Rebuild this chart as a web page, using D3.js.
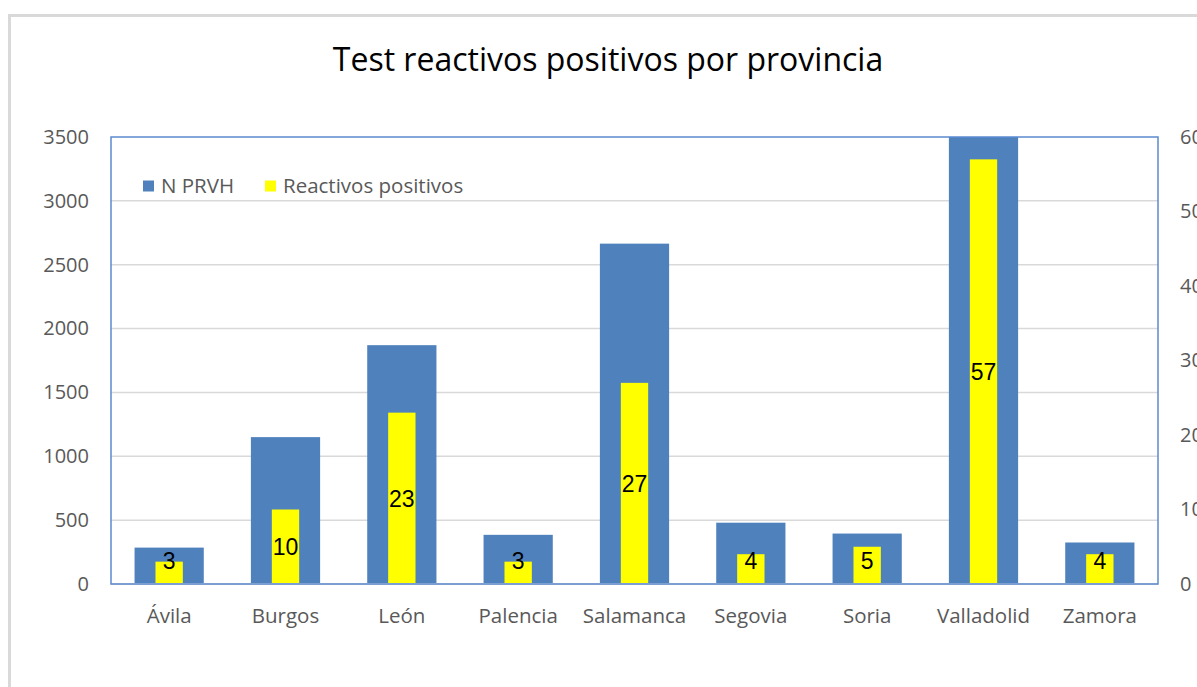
<!DOCTYPE html>
<html>
<head>
<meta charset="utf-8">
<script src="https://cdn.jsdelivr.net/npm/d3@7"></script>
<style>
  body { margin: 0; background: #fff; }
  svg { display: block; }
</style>
</head>
<body>
<div id="chart"></div>
<script>
// data
var provincias = ["Ávila", "Burgos", "León", "Palencia", "Salamanca", "Segovia", "Soria", "Valladolid", "Zamora"];
var nPrvh = [285, 1150, 1870, 385, 2665, 480, 395, 3600, 325];
var reactivos = [3, 10, 23, 3, 27, 4, 5, 57, 4];
var leftTicks = [0, 500, 1000, 1500, 2000, 2500, 3000, 3500];
var rightTicks = [0, 10, 20, 30, 40, 50, 60];

var w = 1197,
  h = 687;
var plot = { left: 111, right: 1158, top: 137, bottom: 584 };

var svg = d3.select("#chart").append("svg")
  .attr("width", w)
  .attr("height", h);

// outer chart frame
svg.append("rect")
  .attr("x", 9.5).attr("y", 15.5)
  .attr("width", 1400).attr("height", 900)
  .attr("fill", "#fff")
  .attr("stroke", "#d9d9d9")
  .attr("stroke-width", 3);

var x = d3.scaleBand()
  .domain(provincias)
  .range([plot.left, plot.right]);

var yLeft = d3.scaleLinear().domain([0, 3500]).range([plot.bottom, plot.top]);
var yRight = d3.scaleLinear().domain([0, 60]).range([plot.bottom, plot.top]);

svg.append("defs").append("clipPath").attr("id", "plotClip")
  .append("rect")
  .attr("x", plot.left).attr("y", plot.top)
  .attr("width", plot.right - plot.left)
  .attr("height", plot.bottom - plot.top);

// gridlines
svg.append("g")
  .selectAll("line")
  .data(leftTicks.slice(1, -1))
  .enter()
  .append("line")
  .attr("x1", plot.left).attr("x2", plot.right)
  .attr("y1", function(d) { return yLeft(d); })
  .attr("y2", function(d) { return yLeft(d); })
  .attr("stroke", "#d9d9d9")
  .attr("stroke-width", 1.5);

// blue bars
var blueW = x.bandwidth() * 0.595;
svg.append("g")
  .attr("clip-path", "url(#plotClip)")
  .selectAll("rect")
  .data(provincias)
  .enter()
  .append("rect")
  .attr("x", function(d) { return x(d) + x.bandwidth() / 2 - blueW / 2; })
  .attr("width", blueW)
  .attr("y", function(d, i) { return yLeft(nPrvh[i]); })
  .attr("height", function(d, i) { return plot.bottom - yLeft(nPrvh[i]); })
  .attr("fill", "#4f81bd");

// yellow bars
var yelW = x.bandwidth() * 0.235;
svg.append("g")
  .selectAll("rect")
  .data(provincias)
  .enter()
  .append("rect")
  .attr("x", function(d) { return x(d) + x.bandwidth() / 2 - yelW / 2; })
  .attr("width", yelW)
  .attr("y", function(d, i) { return yRight(reactivos[i]); })
  .attr("height", function(d, i) { return plot.bottom - yRight(reactivos[i]); })
  .attr("fill", "#ffff00");

// data labels
svg.append("g")
  .selectAll("text")
  .data(provincias)
  .enter()
  .append("text")
  .attr("x", function(d) { return x(d) + x.bandwidth() / 2; })
  .attr("y", function(d, i) {
    var mid = (yRight(reactivos[i]) + plot.bottom) / 2;
    return Math.min(mid, plot.bottom - 23);
  })
  .attr("dy", "0.36em")
  .attr("text-anchor", "middle")
  .style("font-family", "'Liberation Sans', Arial, sans-serif")
  .style("font-size", "23px")
  .style("fill", "#000")
  .text(function(d, i) { return reactivos[i]; });

// bottom axis line
svg.append("line")
  .attr("x1", plot.left).attr("x2", plot.right)
  .attr("y1", plot.bottom).attr("y2", plot.bottom)
  .attr("stroke", "#d9d9d9")
  .attr("stroke-width", 2);

// plot area border
svg.append("rect")
  .attr("x", plot.left).attr("y", plot.top)
  .attr("width", plot.right - plot.left)
  .attr("height", plot.bottom - plot.top)
  .attr("fill", "none")
  .attr("stroke", "#5b8ad0")
  .attr("stroke-width", 1.5);

var labelFont = "'Open Sans', sans-serif";

// left axis labels
var leftAxis = d3.axisLeft(yLeft).tickValues(leftTicks).tickFormat(d3.format("d")).tickSize(0).tickPadding(22);
var gl = svg.append("g").attr("transform", "translate(" + plot.left + ",0)").call(leftAxis);
gl.select(".domain").remove();
gl.selectAll("text")
  .style("font-family", labelFont)
  .style("font-size", "20px")
  .style("fill", "#595959");

// right axis labels (clipped at the page edge, as in the source)
var rightAxis = d3.axisRight(yRight).tickValues(rightTicks).tickFormat(d3.format("d")).tickSize(0).tickPadding(22);
var gr = svg.append("g").attr("transform", "translate(" + plot.right + ",0)").call(rightAxis);
gr.select(".domain").remove();
gr.selectAll("text")
  .style("font-family", labelFont)
  .style("font-size", "20px")
  .style("fill", "#595959");

// category labels
var bottomAxis = d3.axisBottom(x).tickSize(0).tickPadding(24);
var gb = svg.append("g").attr("transform", "translate(0," + plot.bottom + ")").call(bottomAxis);
gb.select(".domain").remove();
gb.selectAll("text")
  .style("font-family", labelFont)
  .style("font-size", "20.5px")
  .style("fill", "#595959");

// title
svg.append("text")
  .attr("x", 608)
  .attr("y", 71)
  .attr("text-anchor", "middle")
  .style("font-family", labelFont)
  .style("font-size", "32px")
  .style("fill", "#000")
  .text("Test reactivos positivos por provincia");

// legend
var legendItems = [
  { name: "N PRVH", color: "#4f81bd", x: 143 },
  { name: "Reactivos positivos", color: "#ffff00", x: 265 }
];
var lg = svg.append("g")
  .selectAll("g")
  .data(legendItems)
  .enter()
  .append("g")
  .attr("transform", function(d) { return "translate(" + d.x + ",186)"; });
lg.append("rect")
  .attr("x", 0).attr("y", -5.5)
  .attr("width", 11).attr("height", 11)
  .attr("fill", function(d) { return d.color; });
lg.append("text")
  .attr("x", 18)
  .attr("dy", "0.35em")
  .style("font-family", labelFont)
  .style("font-size", "20.5px")
  .style("fill", "#595959")
  .text(function(d) { return d.name; });
</script>
</body>
</html>
